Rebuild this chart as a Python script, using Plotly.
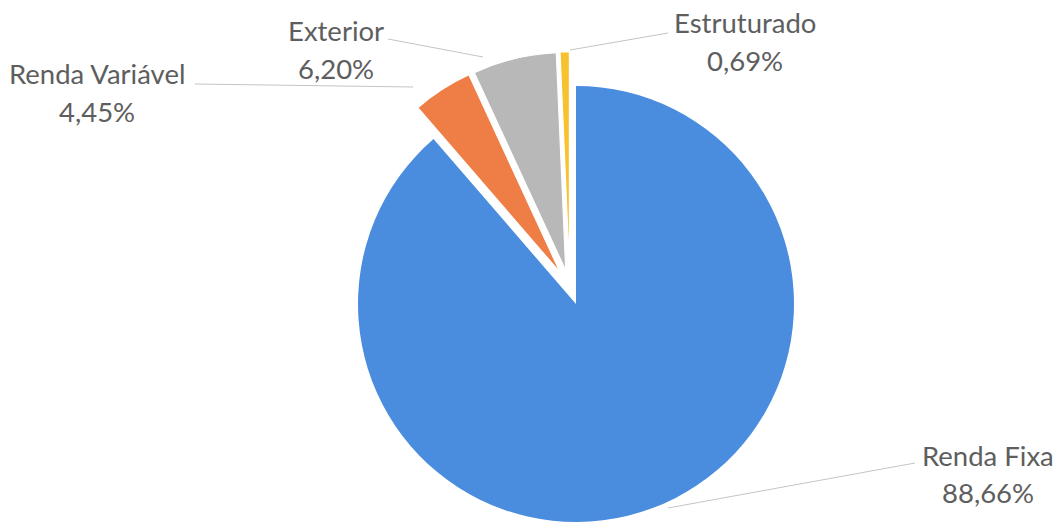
import math
import plotly.graph_objects as go

# Portfolio allocation
labels = ["Renda Fixa", "Renda Variável", "Exterior", "Estruturado"]
shares = [88.66, 4.45, 6.20, 0.69]

# Styling
colors = ["#4A8CDE", "#EE7D46", "#B8B8B8", "#F7C22D"]
exploded = [False, True, True, True]
TEXT_COLOR = "#5E5E5E"
LINE_COLOR = "#C4C4C4"
FONT = "Lato"
FONT_SIZE = 27.5

# Canvas geometry (pixels)
W, H = 1062, 531
CX, CY, R = 576, 304, 218
EXPLODE_PX = 35

# Text positions: (x centre, name baseline, value baseline) in pixels
label_pos = {
    "Renda Fixa": (988, 465, 502),
    "Renda Variável": (97, 83, 121),
    "Exterior": (336, 40, 78),
    "Estruturado": (745, 32, 70),
}
leader_lines = {
    "Renda Fixa": ((668, 508), (915, 463)),
    "Renda Variável": ((195, 84), (413, 87)),
    "Exterior": ((388, 39), (483, 57)),
    "Estruturado": ((668, 33), (570, 50)),
}


def px_x(x):
    return x / W


def px_y(y):
    return 1 - y / H


def domain_for(cx, cy):
    return dict(x=[px_x(cx - R), px_x(cx + R)], y=[px_y(cy + R), px_y(cy - R)])


def fmt_pct(v):
    return f"{v:.2f}".replace(".", ",") + "%"


total = sum(shares)
starts, cum = [], 0.0
for v in shares:
    starts.append(cum)
    cum += v

fig = go.Figure()

# Slices that stay at the centre
base_colors = [c if not e else "rgba(0,0,0,0)" for c, e in zip(colors, exploded)]
fig.add_trace(go.Pie(
    labels=labels, values=shares, sort=False, direction="clockwise", rotation=0,
    marker=dict(colors=base_colors, line=dict(width=0)),
    textinfo="none", hoverinfo="label+percent", showlegend=False,
    domain=domain_for(CX, CY),
))

# Exploded slices: each is pushed out along a direction halfway between
# its own bisector and the bisector of the whole exploded group
grp = [i for i, e in enumerate(exploded) if e]
grp_mid = (starts[grp[0]] + starts[grp[-1]] + shares[grp[-1]]) / 2 / total * 2 * math.pi
for i in grp:
    own_mid = (starts[i] + shares[i] / 2) / total * 2 * math.pi
    ang = (own_mid + grp_mid) / 2
    dx = EXPLODE_PX * math.sin(ang)
    dy = -EXPLODE_PX * math.cos(ang)
    slice_colors = [colors[j] if j == i else "rgba(0,0,0,0)" for j in range(len(shares))]
    slice_lines = ["white" if j == i else "rgba(0,0,0,0)" for j in range(len(shares))]
    fig.add_trace(go.Pie(
        labels=labels, values=shares, sort=False, direction="clockwise", rotation=0,
        marker=dict(colors=slice_colors, line=dict(color=slice_lines, width=1.2)),
        textinfo="none", hoverinfo="label+percent", showlegend=False,
        domain=domain_for(CX + dx, CY + dy),
    ))

# Leader lines
for name, ((x0, y0), (x1, y1)) in leader_lines.items():
    fig.add_shape(type="line", xref="paper", yref="paper",
                  x0=px_x(x0), y0=px_y(y0), x1=px_x(x1), y1=px_y(y1),
                  line=dict(color=LINE_COLOR, width=1))

# Category labels with their shares, one annotation per text line
cap_mid = 0.36 * FONT_SIZE
for name, v in zip(labels, shares):
    x, b1, b2 = label_pos[name]
    for txt, base in ((name, b1), (fmt_pct(v), b2)):
        fig.add_annotation(
            x=px_x(x), y=px_y(base - cap_mid), xref="paper", yref="paper",
            text=txt, showarrow=False,
            xanchor="center", yanchor="middle", align="center",
            font=dict(family=FONT, size=FONT_SIZE, color=TEXT_COLOR),
        )

fig.update_layout(
    width=W, height=H,
    margin=dict(l=0, r=0, t=0, b=0),
    paper_bgcolor="white", plot_bgcolor="white",
)

fig.write_html("out.html")
